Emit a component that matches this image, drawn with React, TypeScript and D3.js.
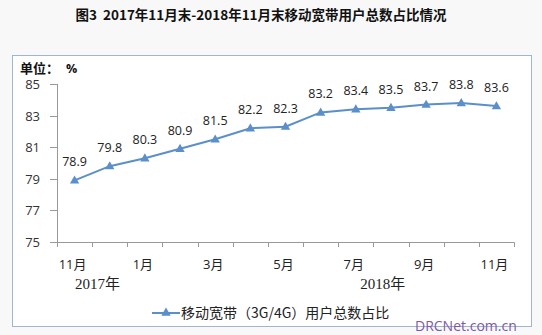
import React from "react";
import * as d3 from "d3";

const categories = ["11月", "12月", "1月", "2月", "3月", "4月", "5月", "6月", "7月", "8月", "9月", "10月", "11月"];
const values = [78.9, 79.8, 80.3, 80.9, 81.5, 82.2, 82.3, 83.2, 83.4, 83.5, 83.7, 83.8, 83.6];
const shownLabelIdx = [0, 2, 4, 6, 8, 10, 12];
const yTicks = [75, 77, 79, 81, 83, 85];
const yearLabels = [
  { text: "2017年", pos: 0.65 },
  { text: "2018年", pos: 8.77 },
];
const title = "图3\u00a0\u00a02017年11月末-2018年11月末移动宽带用户总数占比情况";
const legendLabel = "移动宽带（3G/4G）用户总数占比";

const W = 542, H = 335;
const LINE = "#5b8fc9";
const SANS = "'Open Sans', 'Noto Sans', 'Noto Sans CJK SC', sans-serif";
const CJK = "'Noto Sans CJK SC', sans-serif";

export default function App() {
  const idx = categories.map((_, i) => String(i));
  const x = d3.scaleBand<string>().domain(idx).range([57, 514]);
  const y = d3.scaleLinear().domain([75, 85]).range([242, 84]);
  const cx = (i: number) => (x(String(i)) as number) + x.bandwidth() / 2;
  const line = d3.line<number>().x((_, i) => cx(i)).y((d) => y(d));
  const tri = d3.symbol().type(d3.symbolTriangle).size(38)();
  const boundaries = d3.range(categories.length + 1).map((i) => 57 + i * x.bandwidth());

  return (
    <svg width={W} height={H} style={{ position: "absolute", left: 0, top: 0 }}>
      <rect x={0} y={0} width={W} height={H} fill="#f8f8f8" />
      <text x={261} y={20} textAnchor="middle" fontFamily={CJK} fontWeight="bold" fontSize={13.5} fill="#111">
        {title}
      </text>
      <rect x={12.5} y={55.5} width={519} height={271} fill="#fff" stroke="#9fb6cf" strokeWidth={1} />
      <text x={20} y={72.5} fontFamily={CJK} fontWeight="bold" fontSize={13} fill="#111">单位：</text>
      <text x={66} y={72.5} fontFamily={SANS} fontWeight="bold" fontSize={12.5} fill="#111">%</text>

      {/* y axis */}
      <line x1={57.5} x2={57.5} y1={y(85)} y2={y(75)} stroke="#999" />
      {yTicks.map((t) => (
        <g key={t}>
          <line x1={50} x2={57.5} y1={Math.round(y(t)) + 0.5} y2={Math.round(y(t)) + 0.5} stroke="#999" />
          <text x={40} y={y(t) + 5} textAnchor="end" fontFamily={SANS} fontSize={13} fill="#333">{t}</text>
        </g>
      ))}

      {/* x axis */}
      <line x1={57} x2={514.5} y1={242.5} y2={242.5} stroke="#999" />
      {boundaries.map((b, i) => (
        <line key={i} x1={Math.round(b) + 0.5} x2={Math.round(b) + 0.5} y1={242.5} y2={247} stroke="#999" />
      ))}
      {shownLabelIdx.map((i) => (
        <text key={i} x={cx(i) - 2} y={269} textAnchor="middle" fontFamily={SANS} fontSize={13} fill="#222">
          {categories[i]}
        </text>
      ))}
      {yearLabels.map((yl) => (
        <text key={yl.text} x={57 + yl.pos * x.bandwidth() + x.bandwidth() / 2} y={289} textAnchor="middle"
          fontFamily="'Liberation Serif', 'Noto Sans CJK SC', serif" fontSize={15} fill="#222">
          {yl.text}
        </text>
      ))}

      {/* series */}
      <path d={line(values) || ""} fill="none" stroke={LINE} strokeWidth={2} />
      {values.map((v, i) => (
        <path key={i} d={tri || ""} transform={`translate(${cx(i)},${y(v) + 0.5})`} fill={LINE} />
      ))}
      {values.map((v, i) => (
        <text key={i} x={cx(i)} y={y(v) - 14} textAnchor="middle" fontFamily={SANS} fontSize={12.5} fill="#222">
          {v.toFixed(1)}
        </text>
      ))}

      {/* legend */}
      <line x1={152} x2={180} y1={313} y2={313} stroke={LINE} strokeWidth={2} />
      <path d={tri || ""} transform={`translate(166,313)`} fill={LINE} />
      <text x={181} y={318} fontFamily={CJK} fontSize={14} fill="#222">{legendLabel}</text>

      <text x={415} y={331} fontFamily={SANS} fontSize={14} fill="#7d5aa6">DRCNet.com.cn</text>
    </svg>
  );
}
